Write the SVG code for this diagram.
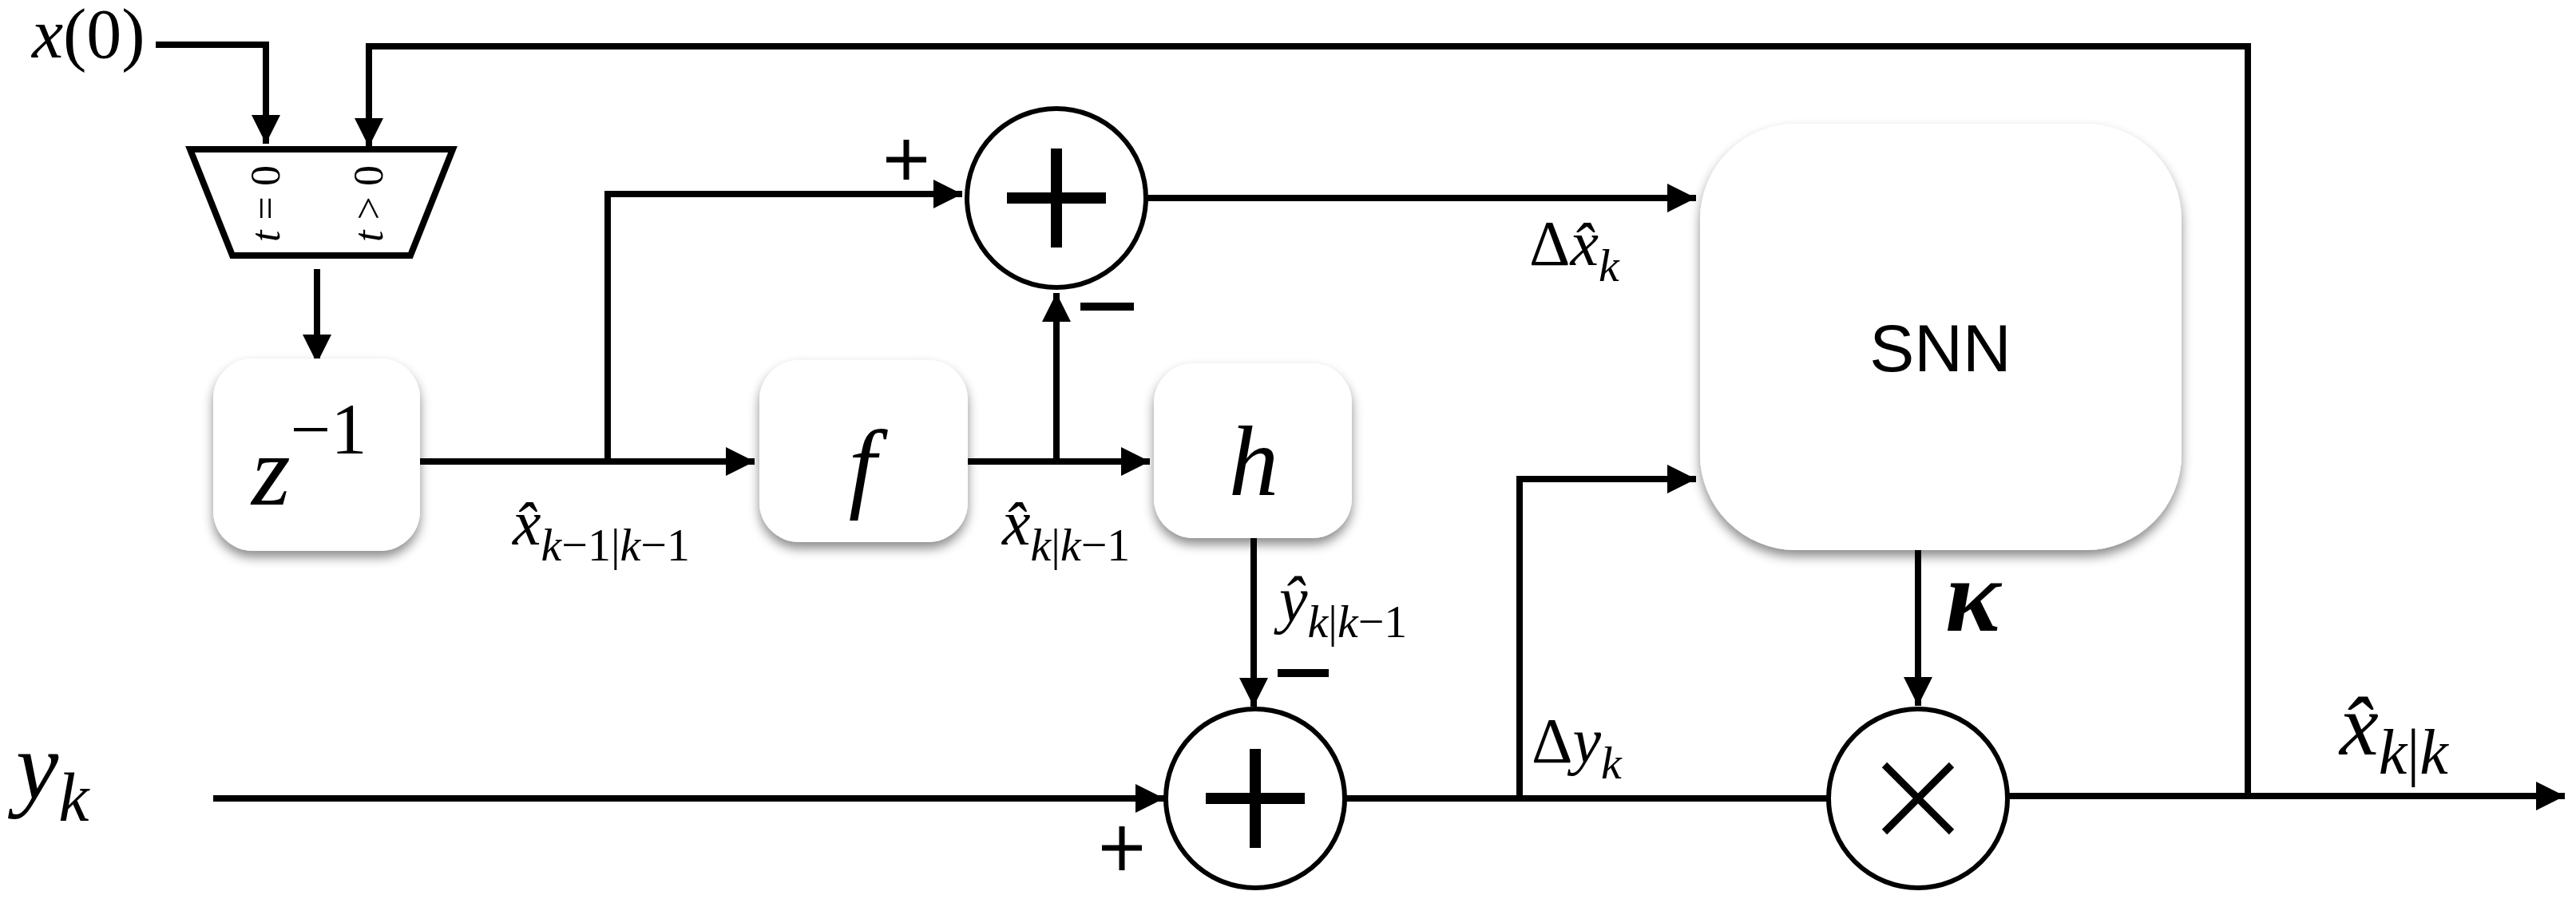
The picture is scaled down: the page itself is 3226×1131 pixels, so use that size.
<svg xmlns="http://www.w3.org/2000/svg" width="3226" height="1131" viewBox="0 0 3226 1131">
<style>
.ln{fill:none;stroke:#000;stroke-width:8}
.box{fill:#fff;filter:url(#sh)}
.m{font-family:"Liberation Serif",serif;font-style:italic;fill:#000}
.r{font-family:"Liberation Serif",serif;fill:#000}
.c{fill:#fff;stroke:#000;stroke-width:6}
</style>
<defs>
<filter id="sh" x="-10%" y="-10%" width="120%" height="125%"><feDropShadow dx="0" dy="8" stdDeviation="7" flood-color="#000" flood-opacity="0.45"/></filter>
<marker id="a" viewBox="0 0 10 10" refX="10" refY="5" markerWidth="4.5" markerHeight="4.5" markerUnits="strokeWidth" orient="auto"><path d="M0,0L10,5L0,10z" fill="#000"/></marker>
</defs>
<rect width="3226" height="1131" fill="#fff"/>
<g id="connectors">
<path class="ln" d="M195,56H333V180" marker-end="url(#a)"/>
<path class="ln" d="M2815,1000V58H462V184" marker-end="url(#a)"/>
<path class="ln" d="M397,337V455" marker-end="url(#a)"/>
<path class="ln" d="M526,578H945" marker-end="url(#a)"/>
<path class="ln" d="M761,578V243H1205" marker-end="url(#a)"/>
<path class="ln" d="M1212,578H1440" marker-end="url(#a)"/>
<path class="ln" d="M1323,578V367" marker-end="url(#a)"/>
<path class="ln" d="M1435,248H2124" marker-end="url(#a)"/>
<path class="ln" d="M1570,674V885" marker-end="url(#a)"/>
<path class="ln" d="M267,1000H1458" marker-end="url(#a)"/>
<path class="ln" d="M1683,1000H2290"/>
<path class="ln" d="M1903,1000V600H2124" marker-end="url(#a)"/>
<path class="ln" d="M2402,689V884" marker-end="url(#a)"/>
<path class="ln" d="M2512,997H3212" marker-end="url(#a)"/>
</g>
<g id="x0"><text class="m" x="40" y="72" font-size="88">x<tspan font-style="normal">(0)</tspan></text></g>
<g id="mux">
<path d="M238,187H567L514,320H291Z" fill="#fff" stroke="#000" stroke-width="8"/>
<text class="r" font-size="52" text-anchor="middle" transform="translate(350,255) rotate(-90)"><tspan font-style="italic">t</tspan> = 0</text>
<text class="r" font-size="52" text-anchor="middle" transform="translate(479,255) rotate(-90)"><tspan font-style="italic">t</tspan> &gt; 0</text>
</g>
<g id="z"><rect class="box" x="267" y="449" width="259" height="241" rx="50"/>
<text class="m" x="315" y="632" font-size="125">z<tspan font-style="normal" font-size="90" dy="-64">−1</tspan></text></g>
<g id="f"><rect class="box" x="951" y="451" width="261" height="228" rx="50"/>
<text class="m" x="1080" y="625" font-size="125" text-anchor="middle">f</text></g>
<g id="h"><rect class="box" x="1445" y="455" width="248" height="219" rx="50"/>
<text class="m" x="1570" y="620" font-size="125" text-anchor="middle">h</text></g>
<g id="snn"><rect class="box" x="2129" y="155" width="603" height="534" rx="120"/>
<text x="2430" y="465" font-family="Liberation Sans,Arial,sans-serif" font-size="84" text-anchor="middle">SNN</text></g>
<g id="sum1"><circle class="c" cx="1323" cy="248" r="112"/>
<path d="M1323,186V310M1261,248H1385" stroke="#000" stroke-width="14"/>
<path d="M1135,175V225M1110,200H1160" stroke="#000" stroke-width="7"/>
<path d="M1353,384H1420" stroke="#000" stroke-width="10"/></g>
<g id="sum2"><circle class="c" cx="1572" cy="1000" r="112"/>
<path d="M1572,938V1062M1510,1000H1634" stroke="#000" stroke-width="14"/>
<path d="M1600,843H1664" stroke="#000" stroke-width="10"/>
<path d="M1405,1035V1090M1380,1062H1430" stroke="#000" stroke-width="7"/></g>
<g id="mult"><circle class="c" cx="2402" cy="1000" r="112"/>
<path d="M2360,958L2444,1042M2444,958L2360,1042" stroke="#000" stroke-width="9"/></g>
<g id="labels">
<text class="m" x="642" y="682" font-size="80">x̂<tspan font-size="58" dy="20">k<tspan font-style="normal">−1|</tspan>k<tspan font-style="normal">−1</tspan></tspan></text>
<text class="m" x="1255" y="682" font-size="80">x̂<tspan font-size="58" dy="20">k<tspan font-style="normal">|</tspan>k<tspan font-style="normal">−1</tspan></tspan></text>
<text class="m" x="1602" y="778" font-size="80">ŷ<tspan font-size="58" dy="20">k<tspan font-style="normal">|</tspan>k<tspan font-style="normal">−1</tspan></tspan></text>
<text class="m" x="1915" y="332" font-size="80"><tspan font-style="normal">Δ</tspan>x̂<tspan font-size="58" dy="20">k</tspan></text>
<text class="m" x="1918" y="955" font-size="80"><tspan font-style="normal">Δ</tspan>y<tspan font-size="58" dy="20">k</tspan></text>
<text class="m" x="20" y="1000" font-size="120">y<tspan font-size="86" dy="28">k</tspan></text>
<text class="m" x="2436" y="790" font-size="130" font-weight="bold">κ</text>
<text class="m" x="2930" y="945" font-size="110">x̂<tspan font-size="80" dy="24">k<tspan font-style="normal">|</tspan>k</tspan></text>
</g>
</svg>
